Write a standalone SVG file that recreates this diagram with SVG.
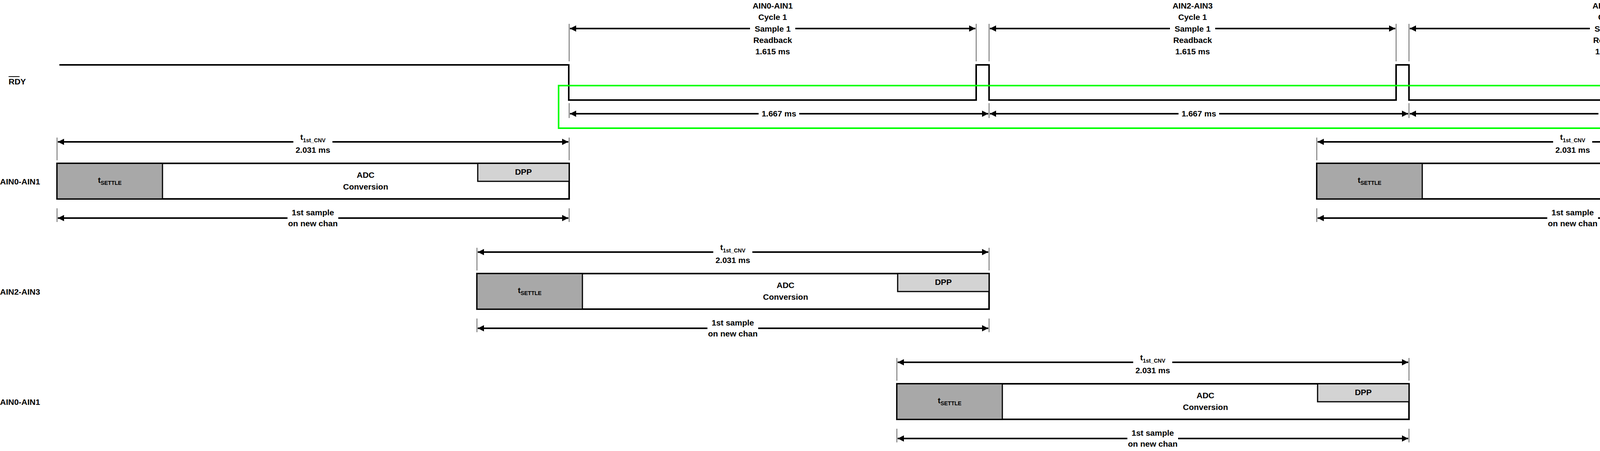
<svg xmlns="http://www.w3.org/2000/svg" width="6837" height="1154" viewBox="0 0 6837 1154">
<style>
text{font-family:"Liberation Sans Narrow","Liberation Sans",Arial,sans-serif;font-stretch:condensed;font-weight:bold;font-size:21px;fill:#000}
.c{text-anchor:middle}
.sub{font-size:14px}
.arr{stroke:#000;stroke-width:4;fill:none;marker-start:url(#ah);marker-end:url(#ah)}
.ext{stroke:#000;stroke-width:1.2}
.sig{stroke:#000;stroke-width:4;fill:none}
.box{fill:#fff;stroke:#000;stroke-width:4}
.set{fill:#a8a8a8;stroke:#000;stroke-width:3}
.dpp{fill:#d3d3d3;stroke:#000;stroke-width:3}
.bg{fill:#fff}
</style>
<defs>
<marker id="ah" viewBox="0 0 10 10" refX="10" refY="5" markerWidth="7" markerHeight="4" orient="auto-start-reverse" markerUnits="strokeWidth"><path d="M0,0 L10,5 L0,10 z" fill="#000"/></marker>
<g id="blk">
<line class="ext" x1="0" y1="-66" x2="0" y2="-8"/><line class="ext" x1="1311" y1="-66" x2="1311" y2="-8"/>
<line class="arr" x1="2" y1="-55" x2="1309" y2="-55"/>
<rect class="bg" x="605" y="-82" width="100" height="62"/>
<text class="c" x="655" y="-60">t<tspan class="sub" dy="6">1st_CNV</tspan></text>
<text class="c" x="655" y="-27">2.031 ms</text>
<rect class="box" x="0" y="0" width="1311" height="91"/>
<rect class="set" x="0" y="0" width="270" height="91"/>
<rect class="dpp" x="1077" y="0" width="234" height="46"/>
<text class="c" x="135" y="50">t<tspan class="sub" dy="5">SETTLE</tspan></text>
<text class="c" x="790" y="37">ADC</text>
<text class="c" x="790" y="67">Conversion</text>
<text class="c" x="1194" y="29">DPP</text>
<line class="ext" x1="0" y1="115" x2="0" y2="150"/><line class="ext" x1="1311" y1="115" x2="1311" y2="150"/>
<line class="arr" x1="2" y1="140" x2="1309" y2="140"/>
<rect class="bg" x="590" y="112" width="130" height="56"/>
<text class="c" x="655" y="133">1st sample</text>
<text class="c" x="655" y="161">on new chan</text>
</g>
<g id="rb">
<line class="ext" x1="1457" y1="61" x2="1457" y2="157"/><line class="ext" x1="2499" y1="61" x2="2499" y2="157"/>
<line class="arr" x1="1459" y1="73" x2="2497" y2="73"/>
<rect class="bg" x="1920" y="58" width="116" height="30"/>
<line class="ext" x1="1457" y1="264" x2="1457" y2="302"/>
<line class="arr" x1="1459" y1="291" x2="2530" y2="291"/>
<rect class="bg" x="1942" y="278" width="104" height="28"/>
<text class="c" x="1994" y="298">1.667 ms</text>
</g>
</defs>
<g id="labels">
<text x="22" y="216">RDY</text>
<line x1="22" y1="196" x2="50" y2="196" stroke="#000" stroke-width="2"/>
<text x="0" y="472">AIN0-AIN1</text>
<text x="0" y="754">AIN2-AIN3</text>
<text x="0" y="1036">AIN0-AIN1</text>
</g>
<g id="rdy">
<path class="sig" d="M152,166 H1456 V256 H2499 V166 H2532 V256 H3574 V166 H3607 V256 H4649 V166 H4682 V256 H5724 V166 H5757 V256 H6799 V166 H6832 V256"/>
</g>
<g id="highlight"><rect x="1430" y="219" width="3310" height="109" fill="none" stroke="#00ff00" stroke-width="4"/></g>
<g id="connectors">
<use href="#rb"/>
<use href="#rb" x="1075"/>
<use href="#rb" x="2150"/>
<use href="#rb" x="3225"/>
<use href="#rb" x="4300"/>
</g>
<g id="readback-labels">
<text class="c" x="1978" y="22">AIN0-AIN1</text><text class="c" x="1978" y="51">Cycle 1</text><text class="c" x="1978" y="81">Sample 1</text><text class="c" x="1978" y="110">Readback</text><text class="c" x="1978" y="139">1.615 ms</text>
<text class="c" x="3053" y="22">AIN2-AIN3</text><text class="c" x="3053" y="51">Cycle 1</text><text class="c" x="3053" y="81">Sample 1</text><text class="c" x="3053" y="110">Readback</text><text class="c" x="3053" y="139">1.615 ms</text>
<text class="c" x="4128" y="22">AIN0-AIN1</text><text class="c" x="4128" y="51">Cycle 1</text><text class="c" x="4128" y="81">Sample 1</text><text class="c" x="4128" y="110">Readback</text><text class="c" x="4128" y="139">1.615 ms</text>
<text class="c" x="5203" y="22">AIN0-AIN1</text><text class="c" x="5203" y="51">Cycle 2</text><text class="c" x="5203" y="81">Sample 1</text><text class="c" x="5203" y="110">Readback</text><text class="c" x="5203" y="139">1.615 ms</text>
<text class="c" x="6278" y="22">AIN2-AIN3</text><text class="c" x="6278" y="51">Cycle 2</text><text class="c" x="6278" y="81">Sample 1</text><text class="c" x="6278" y="110">Readback</text><text class="c" x="6278" y="139">1.615 ms</text>
</g>
<g id="conv-r1a"><use href="#blk" x="146" y="418"/></g>
<g id="conv-r1b"><use href="#blk" x="3371" y="418"/></g>
<g id="conv-r2a"><use href="#blk" x="1221" y="700"/></g>
<g id="conv-r2b"><use href="#blk" x="4446" y="700"/></g>
<g id="conv-r3a"><use href="#blk" x="2296" y="982"/></g>
<g id="conv-r3b"><use href="#blk" x="5521" y="982"/></g>
</svg>
